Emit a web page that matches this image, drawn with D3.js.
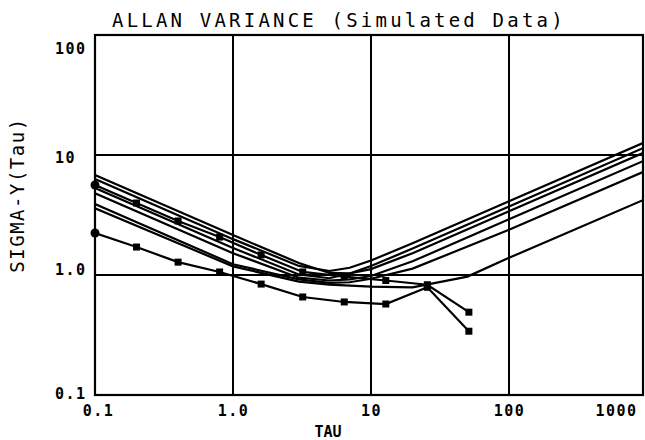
<!DOCTYPE html>
<html><head><meta charset="utf-8">
<script src="https://cdn.jsdelivr.net/npm/d3@7"></script>
<style>body{margin:0;background:#fff}</style>
</head><body><svg id="c" width="645" height="440"></svg>
<script>
const xTicks=[0.1,1,10,100,1000];
const xTickLabels=["0.1","1.0","10","100","1000"];
const yTicks=[0.1,1,10,100];
const yTickLabels=["0.1","1.0","10","100"];
const xGrid=[1,10,100];
const yGrid=[1,10];

const tauSmooth=[0.1,1,3,5,7,10,20,100,1000];
const curve1=[6.8,2.15,1.26,1.04,1.03,1.12,1.52,3.4,10.75];
const curve2=[6.3,1.99,1.19,1.08,1.15,1.32,1.84,4.12,13.0];
const curve3=[5.3,1.68,1.01,0.94,1.03,1.19,1.66,3.73,11.8];
const curve4=[4.8,1.52,0.95,0.90,0.92,0.98,1.30,2.91,9.2];
const curve5=[3.9,1.23,0.92,0.86,0.87,0.93,1.13,2.38,7.45];
const tauF=[0.1,1,3,5,10,20,50,100,1000];
const curveF=[3.6,1.18,0.88,0.83,0.80,0.79,0.97,1.39,4.35];
const tauData=[0.1,0.2,0.4,0.8,1.6,3.2,6.4,12.8,25.6,51.2];
const data1=[5.62,3.98,2.82,2.07,1.47,1.06,0.97,0.9,0.83,0.49];
const data2=[2.24,1.71,1.28,1.06,0.84,0.656,0.596,0.573,0.79,0.34];

const svg=d3.select("#c");
const L=95,R=643,T=35,B=395;
const x=d3.scaleLog().domain([0.1,1000]).range([95,647]);
const y=d3.scaleLog().domain([0.1,100]).range([395,35]);
const font="'DejaVu Sans Mono', monospace";

svg.append("defs").append("clipPath").attr("id","clip")
  .append("rect").attr("x",L).attr("y",T).attr("width",R-L).attr("height",B-T);

const g=svg.append("g");
g.selectAll(".gx").data(xGrid).join("line")
  .attr("x1",d=>x(d)).attr("x2",d=>x(d)).attr("y1",T).attr("y2",B)
  .attr("stroke","#000").attr("stroke-width",2);
g.selectAll(".gy").data(yGrid).join("line").attr("class","gy")
  .attr("y1",d=>y(d)).attr("y2",d=>y(d)).attr("x1",L).attr("x2",R)
  .attr("stroke","#000").attr("stroke-width",2);
g.append("rect").attr("x",L).attr("y",T).attr("width",R-L).attr("height",B-T)
  .attr("fill","none").attr("stroke","#000").attr("stroke-width",2.2);

const line=d3.line().x(d=>x(d[0])).y(d=>y(d[1]));
const plot=svg.append("g").attr("clip-path","url(#clip)");
const smooth=[curve1,curve2,curve3,curve4,curve5].map(c=>tauSmooth.map((t,i)=>[t,c[i]]));
smooth.push(tauF.map((t,i)=>[t,curveF[i]]));
plot.selectAll(".s").data(smooth).join("path")
  .attr("d",line).attr("fill","none").attr("stroke","#000").attr("stroke-width",2.2);
const dataSets=[data1,data2].map(c=>tauData.map((t,i)=>[t,c[i]]));
plot.selectAll(".d").data(dataSets).join("path")
  .attr("d",line).attr("fill","none").attr("stroke","#000").attr("stroke-width",2.2);
dataSets.forEach(ds=>{
  plot.selectAll(null).data(ds.slice(1)).join("rect")
    .attr("x",d=>x(d[0])-3.5).attr("y",d=>y(d[1])-3.5).attr("width",7).attr("height",7).attr("fill","#000");
  svg.append("circle").attr("cx",x(ds[0][0])).attr("cy",y(ds[0][1])).attr("r",4.5).attr("fill","#000");
});

// x axis labels
const xa=svg.append("g").attr("transform",`translate(0,${B})`)
  .call(d3.axisBottom(x).tickValues(xTicks).tickFormat((d,i)=>xTickLabels[i]).tickSize(0).tickPadding(10));
xa.select(".domain").remove();
xa.selectAll("text").attr("font-family",font).attr("font-weight","bold").attr("font-size",15)
  .attr("letter-spacing",1.5).attr("fill","#000")
  .attr("dx",(d,i)=>i===0?3:(i===4?-31:0));

// y axis labels (left aligned)
const ya=svg.append("g").attr("transform",`translate(${L},0)`)
  .call(d3.axisLeft(y).tickValues(yTicks).tickFormat((d,i)=>yTickLabels[i]).tickSize(0).tickPadding(40));
ya.select(".domain").remove();
ya.selectAll("text").attr("font-family",font).attr("font-weight","bold").attr("font-size",15)
  .attr("letter-spacing",1.5).attr("fill","#000").attr("text-anchor","start")
  .attr("dy",(d,i)=>[-2,-6,2,13][i]+5);

svg.append("text").attr("x",112).attr("y",27).attr("text-anchor","start")
  .attr("font-family",font).attr("font-size",19).attr("letter-spacing",3.2)
  .text("ALLAN VARIANCE (Simulated Data)");
svg.append("text").attr("transform","translate(24,195) rotate(-90)").attr("text-anchor","middle")
  .attr("font-family",font).attr("font-size",19).attr("letter-spacing",1.5)
  .text("SIGMA-Y(Tau)");
svg.append("text").attr("x",328).attr("y",437).attr("text-anchor","middle")
  .attr("font-family",font).attr("font-weight","bold").attr("font-size",15)
  .text("TAU");
</script></body></html>
